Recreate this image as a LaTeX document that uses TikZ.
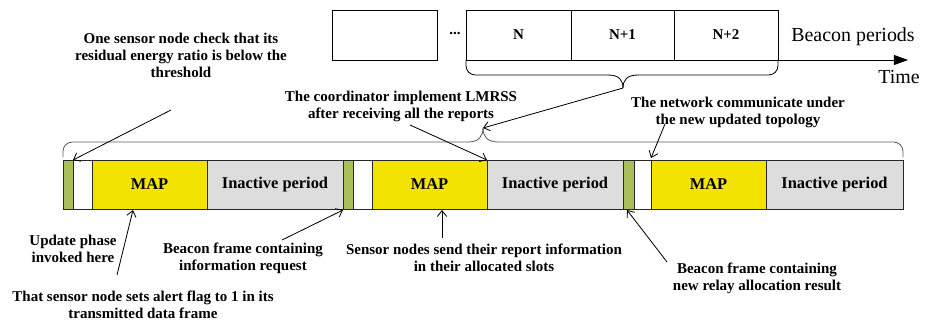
\documentclass[tikz,border=0pt]{standalone}
\usepackage{fontspec}
\setmainfont{Liberation Serif}
\usetikzlibrary{arrows.meta}
\definecolor{slotgreen}{RGB}{169,192,90}
\definecolor{mapyellow}{RGB}{243,228,0}
\definecolor{idlegray}{RGB}{221,221,221}
\definecolor{bracegray}{RGB}{90,90,90}
\tikzset{
  note/.style={font=\fontsize{12.8}{14.6}\selectfont\bfseries, align=center, inner sep=0pt},
  slot/.style={draw=black!85, line width=0.7pt},
  inslot/.style={font=\fontsize{14}{16}\selectfont\bfseries},
  arr/.style={-{Straight Barb[length=5pt,width=8pt]}, line width=0.7pt},
}

\begin{document}
\begin{tikzpicture}[x=0.03cm, y=-0.03cm, line width=0.7pt]
		\useasboundingbox (0,0) rectangle (927,322);
		% Periodes de balise
		\draw (332,10) rectangle (437,60);
		\node[note] (dots) at (455,33) {...};
		\draw (466,10) rectangle (571,60) node[midway, note] (bpN) {N};
		\draw (571,10) rectangle (674,60) node[midway, note] (bpNa) {N+1};
		\draw (674,10) rectangle (778,60) node[midway, note] (bpNb) {N+2};
		\node (bplabel) at (853,37) {\fontsize{17}{20}\selectfont Beacon periods};
		% Axe du temps
		\draw[-{Triangle[length=12pt,width=8.5pt]}] (466,60) -- (908,60);
		\node (timelabel) at (899,77) {\fontsize{17}{20}\selectfont Time};
		% Accolade du haut
		\draw[rounded corners=8] (466,60) -- (466,75) -- (608,75);
		\draw (608,75) .. controls (619,75) and (623,80) .. (623,88);
		\draw (623,88) .. controls (623,80) and (627,75) .. (638,75);
		\draw[rounded corners=8] (638,75) -- (778,75) -- (778,60);
		\coordinate (topTip) at (623,88);
		% Accolade du bas
		\draw[bracegray, rounded corners=8] (63,157) -- (63,142) -- (468,142);
		\draw[bracegray] (468,142) .. controls (479,142) and (483,136) .. (483,128);
		\draw[bracegray] (483,128) .. controls (483,136) and (487,142) .. (498,142);
		\draw[bracegray, rounded corners=8] (498,142) -- (903,142) -- (903,157);
		\coordinate (lowTip) at (483,128);
		\draw[arr] (topTip) -- (lowTip);
		% Premiere periode
		\draw[slot, fill=slotgreen] (63,160) rectangle (73,209);
		\draw[slot, fill=white] (73,160) rectangle (92,209);
		\draw[slot, fill=mapyellow] (92,160) rectangle (207,209) node[midway, inslot] (map1) {MAP};
		\draw[slot, fill=idlegray] (207,160) rectangle (343,209) node[midway, inslot] (idle1) {Inactive period};
		% Deuxieme periode
		\draw[slot, fill=slotgreen] (343,160) rectangle (353,209);
		\draw[slot, fill=white] (353,160) rectangle (372,209);
		\draw[slot, fill=mapyellow] (372,160) rectangle (487,209) node[midway, inslot] (map2) {MAP};
		\draw[slot, fill=idlegray] (487,160) rectangle (623,209) node[midway, inslot] (idle2) {Inactive period};
		% Troisieme periode
		\draw[slot, fill=slotgreen] (623,160) rectangle (634,209);
		\draw[slot, fill=white] (634,160) rectangle (651,209);
		\draw[slot, fill=mapyellow] (651,160) rectangle (766,209) node[midway, inslot] (map3) {MAP};
		\draw[slot, fill=idlegray] (766,160) rectangle (903,209) node[midway, inslot] (idle3) {Inactive period};
		% Annotations du haut
		\node[note] (check) at (181,55) {One sensor node check that its\\residual energy ratio is below the\\threshold};
		\coordinate (checkTail) at (171,110);
		\coordinate (checkHead) at (73,160);
		\draw[arr] (checkTail) -- (checkHead);
		\node[note] (coord) at (401,106) {The coordinator implement LMRSS\\after receiving all the reports};
		\coordinate (coordTail) at (410,125);
		\coordinate (coordHead) at (487,160);
		\draw[arr] (coordTail) -- (coordHead);
		\node[note] (newtopo) at (738,112) {The network communicate under\\the new updated topology};
		\coordinate (topoTail) at (665,124);
		\coordinate (topoHead) at (651,158);
		\draw[arr] (topoTail) -- (topoHead);
		% Annotations du bas
		\node[note] (update) at (73,249) {Update phase\\invoked here};
		\node[note] (alert) at (143,305) {That sensor node sets alert flag to 1 in its\\transmitted data frame};
		\coordinate (alertTail) at (117,275);
		\coordinate (alertHead) at (133,210);
		\draw[arr] (alertTail) -- (alertHead);
		\node[note] (request) at (243,258) {Beacon frame containing\\information request};
		\coordinate (reqTail) at (282,240);
		\coordinate (reqHead) at (343,210);
		\draw[arr] (reqTail) -- (reqHead);
		\node[note] (report) at (484,258) {Sensor nodes send their report information\\in their allocated slots};
		\coordinate (repTail) at (442,238);
		\coordinate (repHead) at (442,210);
		\draw[arr] (repTail) -- (repHead);
		\node[note] (relay) at (757,278) {Beacon frame containing\\new relay allocation result};
		\coordinate (relTail) at (667,262);
		\coordinate (relHead) at (627,210);
		\draw[arr] (relTail) -- (relHead);
\end{tikzpicture}
\end{document}
